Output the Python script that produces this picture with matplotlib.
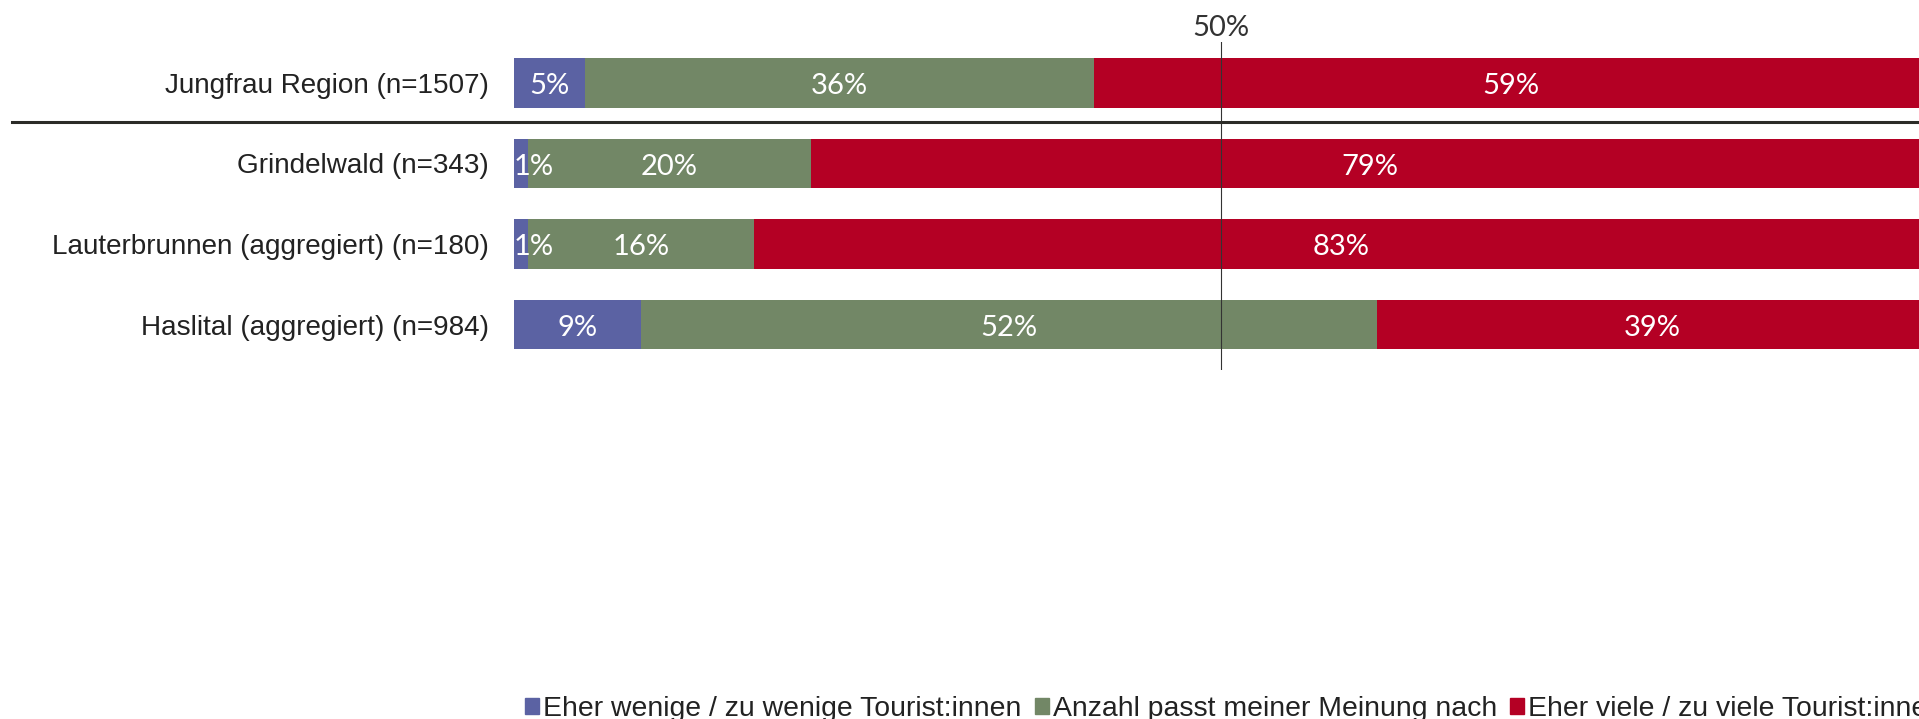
import matplotlib.pyplot as plt
from matplotlib.lines import Line2D
from matplotlib.patches import Patch

# data
categories = [
    "Jungfrau Region (n=1507)",
    "Grindelwald (n=343)",
    "Lauterbrunnen (aggregiert) (n=180)",
    "Haslital (aggregiert) (n=984)",
]
wenige = [5, 1, 1, 9]
passt = [36, 20, 16, 52]
viele = [59, 79, 83, 39]

series_names = [
    "Eher wenige / zu wenige Tourist:innen",
    "Anzahl passt meiner Meinung nach",
    "Eher viele / zu viele Tourist:innen",
]
series_colors = ["#5B62A3", "#728766", "#B40024"]

LABEL_FONT = ["Liberation Sans", "DejaVu Sans"]
VALUE_FONT = ["Lato", "DejaVu Sans"]


def draw_bars(ax):
    lefts = [0] * len(categories)
    for values, color in zip([wenige, passt, viele], series_colors):
        for i, v in enumerate(values):
            ax.barh(i, v / 100, left=lefts[i] / 100, height=0.62, color=color)
            if v < 3:
                # too thin for the label, so start it at the bar
                x, ha = lefts[i] / 100, "left"
            else:
                x, ha = (lefts[i] + v / 2) / 100, "center"
            ax.annotate(f"{v}%", (x, i), xytext=(0, -2.5), textcoords="offset points",
                        ha=ha, va="center", color="white", fontsize=21,
                        family=VALUE_FONT)
            lefts[i] += v


fig = plt.figure(figsize=(19.19, 7.19), dpi=100)
ax = fig.add_axes([514 / 1919, 1 - 370 / 719, 1414 / 1919, 328 / 719])

draw_bars(ax)

ax.set_xlim(0, 1)
ax.set_ylim(3.565, -0.509)
ax.axvline(0.5, color="#333333", linewidth=0.8)

ax.set_yticks(range(len(categories)))
ax.set_yticklabels(categories, family=LABEL_FONT, fontsize=20.1, color="#222222")
ax.tick_params(axis="y", length=0, pad=18)

ax.xaxis.tick_top()
ax.set_xticks([0.5])
ax.set_xticklabels(["50%"], family=VALUE_FONT, fontsize=21, color="#333333")
ax.tick_params(axis="x", length=0, pad=1)

for spine in ax.spines.values():
    spine.set_visible(False)

# separator under the total row
fig.add_artist(Line2D([12 / 1919, 1], [1 - 122 / 719, 1 - 122 / 719],
                      color="#2B2B27", linewidth=2.2, transform=fig.transFigure))

handles = [Patch(color=c) for c in series_colors]
fig.legend(handles, series_names, loc="lower left",
           bbox_to_anchor=(525 / 1919, -0.004), ncol=3, frameon=False,
           prop={"family": LABEL_FONT, "size": 20.4},
           handlelength=0.5, handleheight=0.5, handletextpad=0.15,
           columnspacing=0.45, borderpad=0, borderaxespad=0, labelcolor="#222222")

fig.savefig("out.png", dpi=100)
